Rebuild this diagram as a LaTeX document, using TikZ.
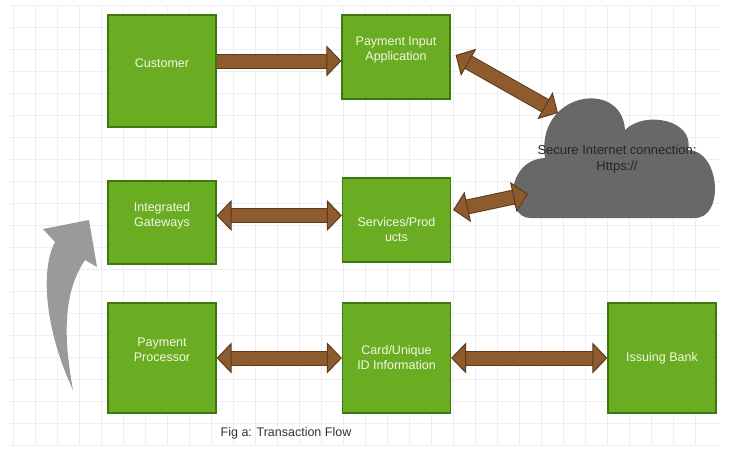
\documentclass[tikz,border=0pt]{standalone}
\usepackage{fontspec}
\setmainfont{Liberation Sans}
\usetikzlibrary{arrows.meta}
\definecolor{boxgreen}{HTML}{6AAD22}
\definecolor{boxedge}{HTML}{3D7A0E}
\definecolor{boxtext}{HTML}{F2F7E6}
\definecolor{linkbrown}{HTML}{8E5B2F}
\definecolor{linkedge}{HTML}{5E3A1C}
\definecolor{cloudgrey}{HTML}{686868}
\definecolor{gridgrey}{HTML}{EEEEF2}
\definecolor{bendgrey}{HTML}{9A9A9A}

\begin{document}
\begin{tikzpicture}[x=1pt, y=-1pt,
    >={Triangle[length=15pt, width=31pt, line width=1pt, fill=linkbrown]},
    box/.style={draw=boxedge, fill=boxgreen, line width=1.2pt, minimum width=108pt, inner sep=0pt},
    txt/.style={text=boxtext, align=center, font=\fontsize{12.5}{15}\selectfont},
    link/.style={line width=1pt, draw=linkedge, double=linkbrown, double distance=13pt}]

    % Fond quadrillé
    \useasboundingbox (0,0) rectangle (729,448);
    \fill[white] (0,0) rectangle (729,448);
    \foreach \gx in {13,35,...,713} \draw[gridgrey, line width=0.5pt] (\gx,5) -- (\gx,445);
    \foreach \gy in {5,27,...,445} \draw[gridgrey, line width=0.5pt] (10,\gy) -- (720,\gy);

    % Blocs
    \node[box, minimum height=112pt, label={[txt, yshift=8pt]center:Customer}] (cust) at (162,71) {};
    \node[box, minimum height=84pt, label={[txt, yshift=7pt]center:{Payment Input\\Application}}] (input) at (396,57) {};
    \node[box, minimum height=83pt, label={[txt, yshift=7pt]center:{Integrated\\Gateways}}] (gate) at (162,222.5) {};
    \node[box, minimum height=84pt, label={[txt, yshift=-10pt]center:{Services/Prod\\ucts}}] (serv) at (396.5,220) {};
    \node[box, minimum height=110pt, label={[txt, yshift=8pt]center:{Payment\\Processor}}] (proc) at (162,358) {};
    \node[box, minimum height=110pt, label={[txt]center:{Card/Unique\\ID Information}}] (card) at (396.5,358) {};
    \node[box, minimum height=110pt, label={[txt]center:Issuing Bank}] (bank) at (662,358) {};

    % Nuage
    \fill[cloudgrey] (530,218) .. controls (505,218) and (505,160) .. (545,158)
        .. controls (535,92) and (622,78) .. (625,130)
        .. controls (645,110) and (695,120) .. (688,150)
        .. controls (720,150) and (725,218) .. (695,218) -- cycle;
    \node[align=center, text=black!85, font=\fontsize{13}{16}\selectfont] (cloud) at (617,159) {Secure Internet connection:\\Https://};
    \coordinate (cloudnw) at (558,113);
    \coordinate (cloudw) at (528,194);

    % Liaisons
    \draw[link, ->] ([yshift=10pt]cust.east) -- ([yshift=-4pt]input.west);
    \draw[link, <->] ([xshift=5pt, yshift=2pt]input.east) -- (cloudnw);
    \draw[link, <->] ([xshift=2pt, yshift=10pt]serv.east) -- (cloudw);
    \draw[link, <->] ([yshift=7pt]gate.east) -- ([yshift=7pt]gate.east -| serv.west);
    \draw[link, <->] (proc.east) -- (card.west);
    \draw[link, <->] (card.east) -- (bank.west);

    % Flèche courbe grise
    \fill[bendgrey] (73,390) .. controls (45,330) and (40,270) .. (55,242) -- (43,229) -- (89,220)
        -- (97,267) -- (85,260) .. controls (65,290) and (62,330) .. (73,390) -- cycle;

    % Légende
    \node[text=black!80, font=\fontsize{12.5}{15}\selectfont] (caption) at (286,433) {Fig a: Transaction Flow};

\end{tikzpicture}
\end{document}
